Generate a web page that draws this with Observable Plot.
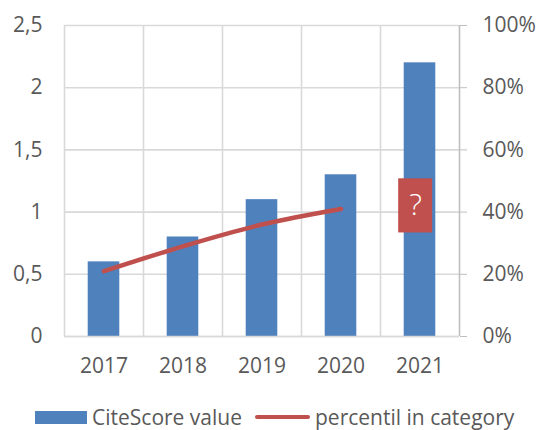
<!DOCTYPE html>
<html>
<head>
<meta charset="utf-8">
<script src="https://cdn.jsdelivr.net/npm/d3@7"></script>
<script src="https://cdn.jsdelivr.net/npm/@observablehq/plot@0.6"></script>
<style>
  html, body { margin: 0; padding: 0; background: #fff; }
  body { width: 537px; height: 430px; overflow: hidden; font-family: "Open Sans", sans-serif; }
  #legend { position: relative; height: 38px; color: #595959; font-size: 21px; }
  .item { position: absolute; display: flex; align-items: center; top: 11px; }
  .sw-bar { width: 52px; height: 13px; background: #4f81bd; margin-right: 5px; }
  .sw-line { width: 55px; height: 4px; background: #c0504d; border-radius: 2px; margin-right: 5px; }
</style>
</head>
<body>
<div id="chart"></div>
<div id="legend"></div>
<script>
const years = [2017, 2018, 2019, 2020, 2021];
const citeScore = [0.6, 0.8, 1.1, 1.3, 2.2];
const percentileYears = [2017, 2018, 2019, 2020];
const percentile = [21, 29, 36, 41];
const leftTicks = [0, 0.5, 1, 1.5, 2, 2.5];
const rightTicks = [0, 20, 40, 60, 80, 100];
const unknownYear = 2021;
const unknownPercent = 42;
const unknownLabel = "?";
const seriesNames = ["CiteScore value", "percentil in category"];

const pctToLeft = p => p / 40;
const bars = years.map((y, i) => ({year: y, value: citeScore[i]}));
const line = percentileYears.map((y, i) => ({year: y, value: pctToLeft(percentile[i])}));
const bounds = [...years.map(y => y - 0.5), years[years.length - 1] + 0.5];
const unknown = [{year: unknownYear, pct: unknownPercent, label: unknownLabel}];

const fmtComma = d => String(d).replace(".", ",");

const chart = Plot.plot({
  width: 537,
  height: 392,
  marginLeft: 64,
  marginRight: 78,
  marginTop: 25,
  marginBottom: 56,
  style: {fontFamily: "Open Sans, sans-serif", fontSize: "21px", color: "#595959", background: "#fff"},
  x: {type: "linear", domain: [bounds[0], bounds[bounds.length - 1]]},
  y: {domain: [0, 2.5]},
  marks: [
    Plot.ruleY(leftTicks, {stroke: "#d9d9d9", strokeWidth: 1.6}),
    Plot.ruleX(bounds.slice(0, -1), {stroke: "#d9d9d9", strokeWidth: 1.6}),
    Plot.rectY(bars, {x1: d => d.year - 0.2, x2: d => d.year + 0.2, y1: 0, y2: "value", fill: "#4f81bd"}),
    Plot.line(line, {x: "year", y: "value", stroke: "#c0504d", strokeWidth: 4.5, curve: "catmull-rom", strokeLinecap: "round"}),
    Plot.rect(unknown, {x1: d => d.year - 0.27, x2: d => d.year + 0.16, y1: d => pctToLeft(d.pct - 8.7), y2: d => pctToLeft(d.pct + 8.7), fill: "#c0504d"}),
    Plot.text(unknown, {x: d => d.year - 0.055, y: d => pctToLeft(d.pct), text: "label", fill: "#fff", fontSize: 30, fontWeight: 300, fontFamily: "Open Sans, sans-serif"}),
    Plot.ruleX(bounds.slice(-1), {stroke: "#bfbfbf", strokeWidth: 1.6}),
    Plot.ruleY([0], {stroke: "#d9d9d9", strokeWidth: 1.6}),
    Plot.axisY(leftTicks, {anchor: "left", tickSize: 0, tickPadding: 22, tickFormat: fmtComma, label: null, fill: "#595959"}),
    Plot.axisY(rightTicks.map(pctToLeft), {anchor: "right", tickSize: 7, tickPadding: 16, stroke: "#bfbfbf", tickFormat: d => Math.round(d * 40) + "%", label: null, fill: "#595959"}),
    Plot.axisX(years, {tickSize: 0, tickPadding: 22, tickFormat: d => String(d), label: null, fill: "#595959"})
  ]
});
document.getElementById("chart").appendChild(chart);

const legend = document.getElementById("legend");
legend.innerHTML = `
  <div class="item" style="left:35px"><div class="sw-bar"></div><span>${seriesNames[0]}</span></div>
  <div class="item" style="left:255px"><div class="sw-line"></div><span>${seriesNames[1]}</span></div>`;
</script>
</body>
</html>
